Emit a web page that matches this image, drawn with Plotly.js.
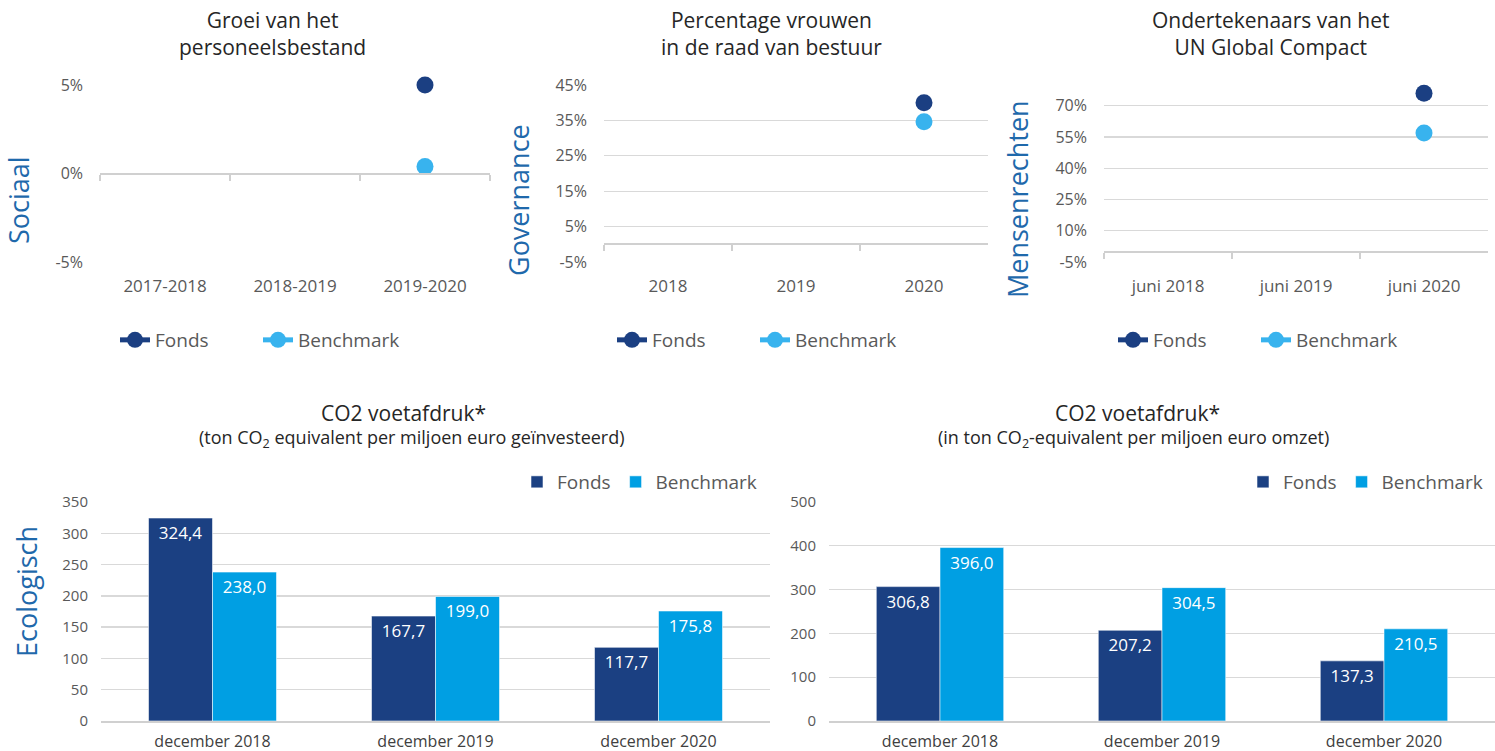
<!DOCTYPE html>
<html>
<head>
<meta charset="utf-8">
<script src="https://cdn.plot.ly/plotly-3.0.1.min.js"></script>
<style>html,body{margin:0;padding:0;background:#fff;}#chart{width:1495px;height:751px;}</style>
</head>
<body>
<div id="chart"></div>
<script>
// ---------- DATA ----------
const seriesNames = ['Fonds', 'Benchmark'];

const socCats = ['2017-2018', '2018-2019', '2019-2020'];
const socFonds = [null, null, 5.0];
const socBench = [null, null, 0.4];
const socTickVals = [-5, 0, 5];
const socTickText = ['-5%', '0%', '5%'];
const socRange = [-5, 5];

const govCats = ['2018', '2019', '2020'];
const govFonds = [null, null, 40.0];
const govBench = [null, null, 34.6];
const govTickVals = [-5, 5, 15, 25, 35, 45];
const govTickText = ['-5%', '5%', '15%', '25%', '35%', '45%'];
const govRange = [-5, 45];

const humCats = ['juni 2018', 'juni 2019', 'juni 2020'];
const humFonds = [null, null, 76.0];
const humBench = [null, null, 57.0];
const humTickVals = [-5, 10, 25, 40, 55, 70];
const humTickText = ['-5%', '10%', '25%', '40%', '55%', '70%'];
const humRange = [-5, 80];

const co2Cats = ['december 2018', 'december 2019', 'december 2020'];
const co2InvFonds = [324.4, 167.7, 117.7];
const co2InvBench = [238.0, 199.0, 175.8];
const co2InvRange = [0, 350];
const co2RevFonds = [306.8, 207.2, 137.3];
const co2RevBench = [396.0, 304.5, 210.5];
const co2RevRange = [0, 500];

// ---------- STYLE ----------
const W = 1495, H = 751;
const px = p => p / W;
const py = p => 1 - p / H;
const FONT = 'Open Sans, Lato, sans-serif';
const cFondsDot = '#1b3f82', cBenchDot = '#38b3ee';
const cFondsBar = '#1b4082', cBenchBar = '#009fe3';
const gridC = '#d9d9d9', tickC = '#595959', titleC = '#262626', sideC = '#1f69ab';

const topY = [py(262), py(85)];
const topDomains = [[px(100), px(490)], [px(604), px(988)], [px(1104), px(1488)]];

const tops = [
  {cats: socCats, f: socFonds, b: socBench, tv: socTickVals, tt: socTickText, r: socRange},
  {cats: govCats, f: govFonds, b: govBench, tv: govTickVals, tt: govTickText, r: govRange},
  {cats: humCats, f: humFonds, b: humBench, tv: humTickVals, tt: humTickText, r: humRange}
];

const data = [];
const layout = {
  width: W, height: H, autosize: false,
  margin: {l: 0, r: 0, t: 0, b: 0, autoexpand: false},
  paper_bgcolor: '#fff', plot_bgcolor: 'rgba(0,0,0,0)',
  font: {family: FONT, color: tickC},
  separators: ',.',
  bargap: 0.426, bargroupgap: 0,
  showlegend: true,
  annotations: []
};

const legendLeft = [115, 612, 1113];
tops.forEach((t, i) => {
  const n = i + 1;
  const xa = 'x' + (n === 1 ? '' : n), ya = 'y' + (n === 1 ? '' : n);
  const xz = 'x' + (n + 5);
  const leg = 'legend' + (n === 1 ? '' : n);
  // Fonds drawn on the label axis, Benchmark on the zero-line axis (same categories & range)
  data.push({
    type: 'scatter', mode: 'lines+markers', name: seriesNames[0],
    x: t.cats, y: t.f, xaxis: xa, yaxis: ya, legend: leg,
    line: {color: cFondsDot, width: 5}, marker: {color: cFondsDot, size: 17},
    cliponaxis: false, hoverinfo: 'skip'
  });
  data.push({
    type: 'scatter', mode: 'lines+markers', name: seriesNames[1],
    x: t.cats, y: t.b, xaxis: xz, yaxis: ya, legend: leg,
    line: {color: cBenchDot, width: 5}, marker: {color: cBenchDot, size: 17},
    cliponaxis: false, hoverinfo: 'skip'
  });
  layout['xaxis' + (n === 1 ? '' : n)] = {
    domain: topDomains[i], anchor: ya, type: 'category',
    categoryorder: 'array', categoryarray: t.cats, range: [-0.5, t.cats.length - 0.5],
    showgrid: false, zeroline: false, showline: false, ticks: '',
    tickfont: {size: 17, color: tickC}, ticklabelstandoff: 12, fixedrange: true
  };
  layout['yaxis' + (n === 1 ? '' : n)] = {
    domain: topY, anchor: xa, range: t.r,
    tickmode: 'array', tickvals: t.tv, ticktext: t.tt,
    showgrid: true, gridcolor: gridC, gridwidth: 1.3, zeroline: false, showline: false,
    tickfont: {size: 16, color: tickC}, ticklabelstandoff: 16, fixedrange: true
  };
  const zeroPos = topY[0] + (0 - t.r[0]) / (t.r[1] - t.r[0]) * (topY[1] - topY[0]);
  layout['xaxis' + (n + 5)] = {
    overlaying: xa, anchor: 'free', position: zeroPos, domain: topDomains[i],
    type: 'category', categoryorder: 'array', categoryarray: t.cats,
    range: [-0.5, t.cats.length - 0.5], tickson: 'boundaries',
    showline: true, linecolor: '#d0d0d0', linewidth: 2,
    ticks: 'outside', ticklen: 6, tickcolor: '#d0d0d0', tickwidth: 1.5,
    showticklabels: false, showgrid: false, zeroline: false, fixedrange: true
  };
  layout[leg] = {
    x: px(legendLeft[i]), xanchor: 'left', y: py(340), yanchor: 'middle',
    orientation: 'h', entrywidth: 98, entrywidthmode: 'pixels',
    font: {size: 19, color: tickC, family: FONT},
    bgcolor: 'rgba(0,0,0,0)', itemclick: false, itemdoubleclick: false
  };
});

// bottom bar charts
const bottoms = [
  {f: co2InvFonds, b: co2InvBench, r: co2InvRange, dt: 50, dom: [px(101), px(770)], leg: 762},
  {f: co2RevFonds, b: co2RevBench, r: co2RevRange, dt: 100, dom: [px(829), 1], leg: 1488}
];
bottoms.forEach((t, i) => {
  const n = i + 4;
  const xa = 'x' + n, ya = 'y' + n, leg = 'legend' + n;
  [[t.f, cFondsBar, 0], [t.b, cBenchBar, 1]].forEach(([vals, col, k]) => {
    data.push({
      type: 'bar', name: seriesNames[k], x: co2Cats, y: vals, xaxis: xa, yaxis: ya, legend: leg,
      marker: {color: col, line: {color: 'rgba(255,255,255,0.55)', width: 1}},
      texttemplate: '%{y:.1f}', textposition: 'inside', insidetextanchor: 'end',
      textfont: {color: '#ffffff', size: 17, family: FONT}, constraintext: 'none',
      textangle: 0, hoverinfo: 'skip'
    });
  });
  layout['xaxis' + n] = {
    domain: t.dom, anchor: ya, type: 'category',
    showgrid: false, zeroline: false, showline: true, linecolor: '#d0d0d0', linewidth: 2,
    ticks: '', tickfont: {size: 16, color: '#404040'}, ticklabelstandoff: 5, fixedrange: true
  };
  layout['yaxis' + n] = {
    domain: [py(721), py(502)], anchor: xa, range: t.r, tick0: 0, dtick: t.dt,
    showgrid: true, gridcolor: gridC, gridwidth: 1.3, zeroline: false, showline: false,
    tickfont: {size: 15, color: tickC}, ticklabelstandoff: 12, fixedrange: true
  };
  layout[leg] = {
    x: px(t.leg), xanchor: 'right', y: py(482), yanchor: 'middle',
    orientation: 'h', font: {size: 19, color: tickC, family: FONT},
    bgcolor: 'rgba(0,0,0,0)', itemclick: false, itemdoubleclick: false, itemwidth: 30
  };
});

// titles
const titleTexts = ['Groei van het<br>personeelsbestand', 'Percentage vrouwen<br>in de raad van bestuur', 'Ondertekenaars van het<br>UN Global Compact'];
const titleX = [272, 771, 1270];
titleTexts.forEach((txt, i) => layout.annotations.push({
  text: txt, x: px(titleX[i]), y: py(33), xref: 'paper', yref: 'paper',
  xanchor: 'center', yanchor: 'middle', showarrow: false,
  font: {size: 21, color: titleC, family: FONT}
}));
const sideTitles = [['Sociaal', 18, 200], ['Governance', 518, 200], ['Mensenrechten', 1018, 199], ['Ecologisch', 26, 592]];
sideTitles.forEach(([txt, x, y]) => layout.annotations.push({
  text: txt, x: px(x), y: py(y), xref: 'paper', yref: 'paper', textangle: -90,
  xanchor: 'center', yanchor: 'middle', showarrow: false,
  font: {size: 27, color: sideC, family: FONT}
}));
const co2Titles = [
  ['CO2 voetafdruk*', 403, 413, 21], ['(ton CO<sub>2</sub> equivalent per miljoen euro geïnvesteerd)', 412, 438, 18],
  ['CO2 voetafdruk*', 1137, 413, 21], ['(in ton CO<sub>2</sub>-equivalent per miljoen euro omzet)', 1133, 438, 18]
];
co2Titles.forEach(([txt, x, y, s]) => layout.annotations.push({
  text: txt, x: px(x), y: py(y), xref: 'paper', yref: 'paper',
  xanchor: 'center', yanchor: 'middle', showarrow: false,
  font: {size: s, color: titleC, family: FONT}
}));

Plotly.newPlot('chart', data, layout, {displayModeBar: false, staticPlot: true});
</script>
</body>
</html>
